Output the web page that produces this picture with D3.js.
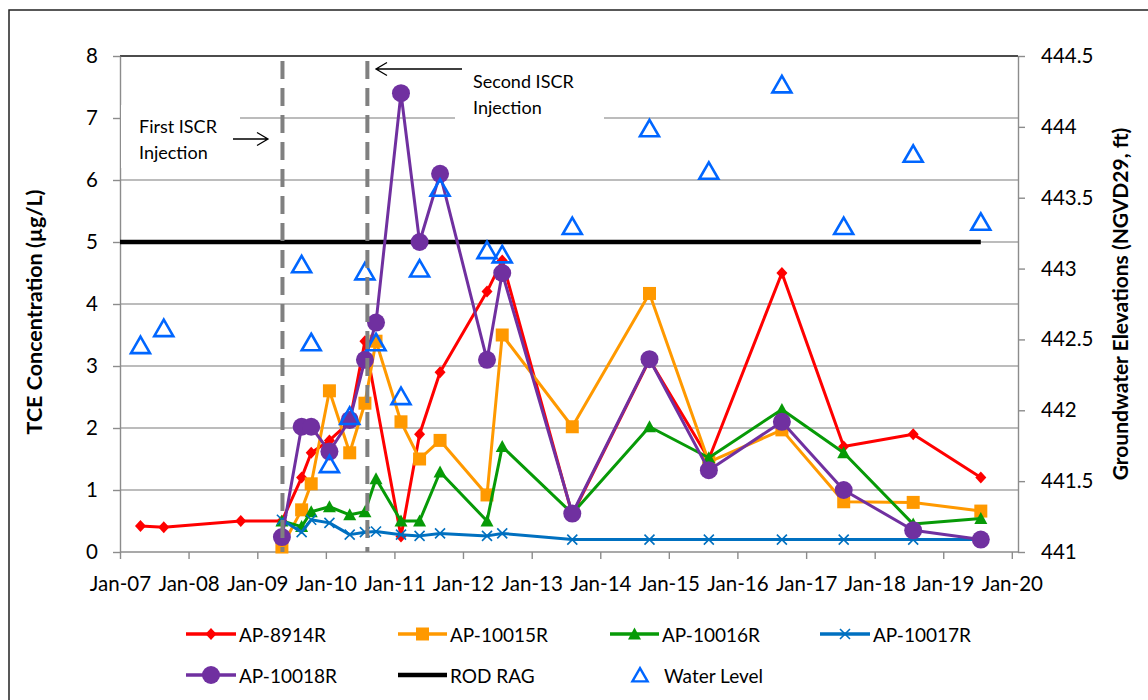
<!DOCTYPE html>
<html>
<head>
<meta charset="utf-8">
<script src="https://cdn.jsdelivr.net/npm/d3@7"></script>
<style>
  body { margin: 0; background: #fff; }
  svg { display: block; }
</style>
</head>
<body>
<svg id="chart" width="1148" height="700"></svg>
<script>
// Sampling dates shared by the monitoring wells
const sampleDates = [
  "2007-04-20", "2007-08-22", "2008-10-05", "2009-05-12", "2009-08-25", "2009-10-15",
  "2010-01-20", "2010-05-08", "2010-07-28", "2010-09-25", "2011-02-05", "2011-05-15",
  "2011-09-01", "2012-05-08", "2012-07-28", "2013-08-05", "2014-09-20", "2015-08-02",
  "2016-08-25", "2017-07-20", "2018-07-25", "2019-07-20"
];

// TCE concentration (µg/L), null where a well was not sampled
const ap8914R  = [0.42, 0.40, 0.50, 0.50, 1.2, 1.6, 1.8, 2.1, 3.4, null, 0.25, 1.9, 2.9, 4.2, 4.7, 0.6, 3.1, 1.5, 4.5, 1.7, 1.9, 1.2];
const ap10015R = [null, null, null, 0.08, 0.68, 1.1, 2.6, 1.6, 2.4, 3.4, 2.1, 1.5, 1.8, 0.92, 3.5, 2.02, 4.17, 1.45, 1.97, 0.81, 0.8, 0.66];
const ap10016R = [null, null, null, 0.5, 0.41, 0.65, 0.73, 0.6, 0.65, 1.18, 0.5, 0.5, 1.29, 0.5, 1.7, 0.62, 2.02, 1.52, 2.3, 1.6, 0.45, 0.54];
const ap10017R = [null, null, null, 0.52, 0.32, 0.52, 0.47, 0.28, 0.32, 0.33, 0.28, 0.26, 0.3, 0.26, 0.3, 0.2, 0.2, 0.2, 0.2, 0.2, 0.2, 0.2];
const ap10018R = [null, null, null, 0.24, 2.02, 2.02, 1.62, 2.13, 3.1, 3.7, 7.4, 5.0, 6.1, 3.1, 4.5, 0.62, 3.11, 1.32, 2.1, 1.0, 0.35, 0.2];

// Groundwater elevation (NGVD29, ft)
const waterLevel = [442.46, 442.58, null, null, 443.03, 442.48, 441.62, 441.96, 442.98, 442.48, 442.10, 443.0, 443.57, 443.13, 443.10, 443.30, 443.99, 443.69, 444.30, 443.30, 443.81, 443.33];

// Record of Decision remedial action goal
const rodRagDates = ["2007-01-01", "2019-07-20"];
const rodRagValue = [5, 5];

// ISCR injection events
const injectionDates = ["2009-05-15", "2010-08-10"];

// Axis ticks
const leftTicks = [0, 1, 2, 3, 4, 5, 6, 7, 8];
const rightTicks = [441, 441.5, 442, 442.5, 443, 443.5, 444, 444.5];
const yearTicks = ["2007", "2008", "2009", "2010", "2011", "2012", "2013", "2014", "2015", "2016", "2017", "2018", "2019", "2020"];

const FONT = "Lato, 'Open Sans', sans-serif";
const parse = d3.utcParse("%Y-%m-%d");

const svg = d3.select("#chart");
const L = 120, R = 1018, T = 56, B = 552;

const x = d3.scaleUtc().domain([parse("2007-01-01"), parse("2020-02-03")]).range([L, R]);
const y = d3.scaleLinear().domain([0, 8]).range([B, T]);
const y2 = d3.scaleLinear().domain([441, 444.5]).range([B, T]);

// chart border
svg.append("rect").attr("x", 9).attr("y", 10).attr("width", 1160).attr("height", 720)
  .attr("fill", "none").attr("stroke", "#222").attr("stroke-width", 1.5);

// horizontal gridlines
svg.append("g").selectAll("line").data(leftTicks.slice(1, -1)).join("line")
  .attr("x1", L).attr("x2", R).attr("y1", d => y(d)).attr("y2", d => y(d))
  .attr("stroke", "#a6a6a6").attr("stroke-width", 1.4);
svg.append("line").attr("x1", L).attr("x2", R).attr("y1", y(8)).attr("y2", y(8))
  .attr("stroke", "#111").attr("stroke-width", 1.4);

// axes
function styleAxis(g) {
  g.select(".domain").attr("stroke", "#8c8c8c").attr("stroke-width", 1.4);
  g.selectAll(".tick line").attr("stroke", "#8c8c8c").attr("stroke-width", 1.4);
  g.selectAll("text").attr("font-family", FONT).attr("font-size", 20.5).attr("fill", "#000");
}
const xAxis = svg.append("g").attr("transform", `translate(0,${B})`)
  .call(d3.axisBottom(x).tickValues(yearTicks.map(yr => parse(yr + "-01-01")))
    .tickFormat(d3.utcFormat("Jan-%y")).tickSize(7).tickSizeOuter(0).tickPadding(17));
styleAxis(xAxis);
xAxis.select(".domain").attr("d", `M${L},0H${R}`);

const yAxis = svg.append("g").attr("transform", `translate(${L},0)`)
  .call(d3.axisLeft(y).tickValues(leftTicks).tickSize(7).tickSizeOuter(0).tickPadding(15));
styleAxis(yAxis);

const y2Axis = svg.append("g").attr("transform", `translate(${R},0)`)
  .call(d3.axisRight(y2).tickValues(rightTicks).tickFormat(d => String(d))
    .tickSize(7).tickSizeOuter(0).tickPadding(16));
styleAxis(y2Axis);

// axis titles
svg.append("text").attr("transform", "translate(34,312) rotate(-90)")
  .attr("text-anchor", "middle").attr("dominant-baseline", "central")
  .attr("font-family", FONT).attr("font-weight", "bold").attr("font-size", 21.5)
  .text("TCE Concentration (µg/L)");
svg.append("text").attr("transform", "translate(1119,304) rotate(-90)")
  .attr("text-anchor", "middle").attr("dominant-baseline", "central")
  .attr("font-family", FONT).attr("font-weight", "bold").attr("font-size", 21)
  .text("Groundwater Elevations (NGVD29, ft)");

// marker shapes
const shapes = {
  diamond: "M0,-6L5.5,0L0,6L-5.5,0Z",
  square: "M-6.5,-6.5H6.5V6.5H-6.5Z",
  triangle: "M0,-6.5L6.5,5.5L-6.5,5.5Z",
  cross: "M-5,-5L5,5M-5,5L5,-5",
  circle: "M9,0A9,9 0 1 1 -9,0A9,9 0 1 1 9,0Z",
  openTriangle: "M0,-8.5L9.5,8L-9.5,8Z"
};

const series = [
  { name: "AP-8914R",  values: ap8914R,  color: "#ff0000", shape: "diamond" },
  { name: "AP-10015R", values: ap10015R, color: "#ff9900", shape: "square" },
  { name: "AP-10016R", values: ap10016R, color: "#079a07", shape: "triangle" },
  { name: "AP-10017R", values: ap10017R, color: "#0070c0", shape: "cross" },
  { name: "AP-10018R", values: ap10018R, color: "#7030a0", shape: "circle" }
];

const line = d3.line().x(d => x(d.date)).y(d => y(d.v));

// ROD RAG line
const ragPts = rodRagDates.map((d, i) => ({ date: parse(d), v: rodRagValue[i] }));
svg.append("path").attr("d", line(ragPts)).attr("fill", "none")
  .attr("stroke", "#000").attr("stroke-width", 4.5);

// concentration series
series.forEach(s => {
  const pts = sampleDates.map((d, i) => ({ date: parse(d), v: s.values[i] })).filter(p => p.v != null);
  const g = svg.append("g");
  g.append("path").attr("d", line(pts)).attr("fill", "none")
    .attr("stroke", s.color).attr("stroke-width", 3).attr("stroke-linejoin", "round");
  g.selectAll("path.m").data(pts).join("path").attr("class", "m")
    .attr("transform", p => `translate(${x(p.date)},${y(p.v)})`)
    .attr("d", shapes[s.shape])
    .attr("fill", s.shape === "cross" ? "none" : s.color)
    .attr("stroke", s.color)
    .attr("stroke-width", s.shape === "cross" ? 1.6 : 0);
});

// water level markers (secondary axis)
const wlPts = sampleDates.map((d, i) => ({ date: parse(d), v: waterLevel[i] })).filter(p => p.v != null);
svg.append("g").selectAll("path").data(wlPts).join("path")
  .attr("transform", p => `translate(${x(p.date)},${y2(p.v)})`)
  .attr("d", shapes.openTriangle).attr("fill", "none")
  .attr("stroke", "#0066ff").attr("stroke-width", 2.6).attr("stroke-linejoin", "miter");

// injection event markers
svg.append("g").selectAll("line").data(injectionDates).join("line")
  .attr("x1", d => x(parse(d))).attr("x2", d => x(parse(d)))
  .attr("y1", 61).attr("y2", B)
  .attr("stroke", "#808080").attr("stroke-width", 4).attr("stroke-dasharray", "18,9");

// annotation boxes
function note(bx, by, bw, bh, tx, lines) {
  svg.append("rect").attr("x", bx).attr("y", by).attr("width", bw).attr("height", bh).attr("fill", "#fff");
  svg.append("g").selectAll("text").data(lines).join("text")
    .attr("x", tx).attr("y", (d, i) => by + 28 + i * 26)
    .attr("font-family", FONT).attr("font-size", 18).attr("fill", "#000").text(d => d);
}
note(121, 105, 119, 63, 139, ["First ISCR", "Injection"]);
note(455, 60, 149, 66, 473, ["Second ISCR", "Injection"]);

// arrows
function arrow(x1, x2, yy) {
  const dir = Math.sign(x2 - x1);
  svg.append("path")
    .attr("d", `M${x1},${yy}H${x2}M${x2 - dir * 11},${yy - 6.5}L${x2},${yy}L${x2 - dir * 11},${yy + 6.5}`)
    .attr("fill", "none").attr("stroke", "#000").attr("stroke-width", 1.3);
}
arrow(233, 268, 139);
arrow(462, 376, 69);

// legend
const legendItems = [
  { label: "AP-8914R",  color: "#ff0000", shape: "diamond",  x0: 186, x1: 236, row: 0 },
  { label: "AP-10015R", color: "#ff9900", shape: "square",   x0: 398, x1: 447, row: 0 },
  { label: "AP-10016R", color: "#079a07", shape: "triangle", x0: 610, x1: 659, row: 0 },
  { label: "AP-10017R", color: "#0070c0", shape: "cross",    x0: 820, x1: 870, row: 0 },
  { label: "AP-10018R", color: "#7030a0", shape: "circle",   x0: 186, x1: 236, row: 1 },
  { label: "ROD RAG",   color: "#000",    shape: null,       x0: 398, x1: 447, row: 1 },
  { label: "Water Level", color: "#0066ff", shape: "openTriangle", x0: null, x1: 640, row: 1 }
];
const rowY = [634, 675];
legendItems.forEach(it => {
  const g = svg.append("g");
  const cy = rowY[it.row];
  if (it.x0 != null) {
    g.append("line").attr("x1", it.x0).attr("x2", it.x1).attr("y1", cy).attr("y2", cy)
      .attr("stroke", it.color).attr("stroke-width", it.shape ? 3.5 : 4.5);
    if (it.shape) {
      g.append("path").attr("transform", `translate(${(it.x0 + it.x1) / 2},${cy})`)
        .attr("d", shapes[it.shape])
        .attr("fill", it.shape === "cross" ? "none" : it.color)
        .attr("stroke", it.color).attr("stroke-width", it.shape === "cross" ? 1.6 : 0);
    }
    g.append("text").attr("x", it.x1 + 3).attr("y", cy).attr("dominant-baseline", "central")
      .attr("font-family", FONT).attr("font-size", 19).text(it.label);
  } else {
    g.append("path").attr("transform", `translate(${it.x1},${cy}) scale(0.8)`)
      .attr("d", shapes[it.shape]).attr("fill", "none").attr("stroke", it.color).attr("stroke-width", 3);
    g.append("text").attr("x", it.x1 + 24).attr("y", cy).attr("dominant-baseline", "central")
      .attr("font-family", FONT).attr("font-size", 19).text(it.label);
  }
});
</script>
</body>
</html>
